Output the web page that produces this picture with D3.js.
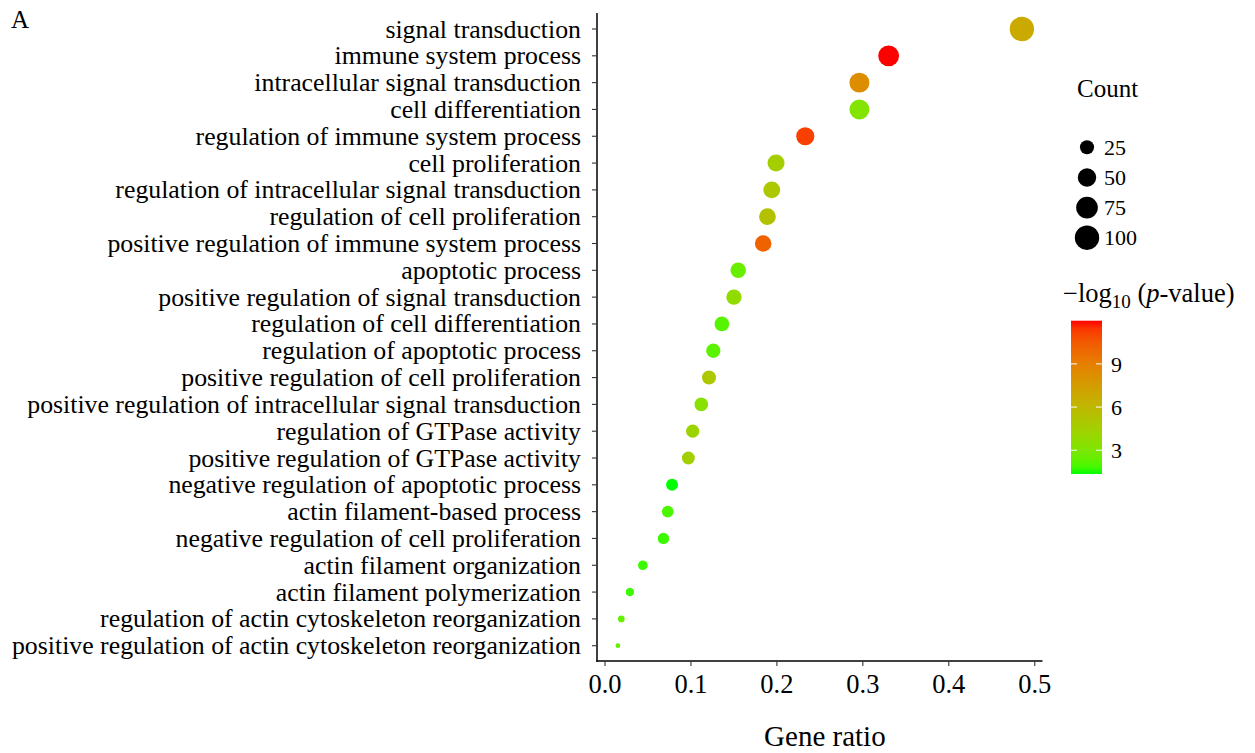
<!DOCTYPE html>
<html>
<head>
<meta charset="utf-8">
<script src="https://cdn.jsdelivr.net/npm/d3@7"></script>
<style>
  html, body { margin: 0; padding: 0; background: #fff; }
  svg { display: block; font-family: "Liberation Serif", "Times New Roman", serif; }
</style>
</head>
<body>
<svg id="chart" width="1255" height="753"></svg>
<script>
// ---- data ----
const categories = [
  "signal transduction",
  "immune system process",
  "intracellular signal transduction",
  "cell differentiation",
  "regulation of immune system process",
  "cell proliferation",
  "regulation of intracellular signal transduction",
  "regulation of cell proliferation",
  "positive regulation of immune system process",
  "apoptotic process",
  "positive regulation of signal transduction",
  "regulation of cell differentiation",
  "regulation of apoptotic process",
  "positive regulation of cell proliferation",
  "positive regulation of intracellular signal transduction",
  "regulation of GTPase activity",
  "positive regulation of GTPase activity",
  "negative regulation of apoptotic process",
  "actin filament-based process",
  "negative regulation of cell proliferation",
  "actin filament organization",
  "actin filament polymerization",
  "regulation of actin cytoskeleton reorganization",
  "positive regulation of actin cytoskeleton reorganization"
];
const geneRatio = [0.485, 0.330, 0.296, 0.296, 0.233, 0.199, 0.194, 0.189, 0.184, 0.155, 0.150, 0.136,
                   0.126, 0.121, 0.112, 0.102, 0.097, 0.078, 0.073, 0.068, 0.044, 0.029, 0.019, 0.015];
const counts    = [100, 68, 61, 61, 48, 41, 40, 39, 38, 32, 31, 28, 26, 25, 23, 21, 20, 16, 15, 14, 9, 6, 4, 3];
const negLogP   = [6.8, 12.0, 8.3, 3.2, 11.2, 4.6, 5.0, 5.4, 10.2, 2.5, 3.7, 2.1,
                   2.2, 5.0, 3.4, 4.2, 4.5, 1.35, 1.9, 1.7, 1.7, 1.7, 2.4, 2.4];
const xTicks = [0.0, 0.1, 0.2, 0.3, 0.4, 0.5];
const sizeBreaks = [25, 50, 75, 100];
const colorBreaks = [3, 6, 9];

const data = categories.map((c, i) => ({ term: c, ratio: geneRatio[i], count: counts[i], p: negLogP[i] }));

const svg = d3.select("#chart");

// ---- scales ----
const x = d3.scaleLinear().domain([-0.0093, 0.509]).range([597, 1042.5]);
const y = d3.scalePoint().domain(categories).range([29, 645.7]);

const cMin = d3.min(counts), cMax = d3.max(counts);
const rLin = d3.scaleLinear().domain([0, 1]).range([2.35, 12.2]);
const r = c => rLin(Math.sqrt(Math.max(0, (c - cMin) / (cMax - cMin))));

const pMin = d3.min(negLogP), pMax = d3.max(negLogP);
const color = d3.scaleLinear().domain([pMin, pMax]).range(["#00ff00", "#ff0000"]).interpolate(d3.interpolateLab);

// ---- axes ----
const axisY = 661, axisX = 597;
svg.append("line").attr("x1", axisX).attr("x2", axisX).attr("y1", 13).attr("y2", axisY + 0.75)
  .attr("stroke", "#000").attr("stroke-width", 1.5);
svg.append("line").attr("x1", axisX - 0.75).attr("x2", 1042.5).attr("y1", axisY).attr("y2", axisY)
  .attr("stroke", "#000").attr("stroke-width", 1.5);

// y ticks + labels
const yg = svg.append("g");
yg.selectAll("line").data(categories).join("line")
  .attr("x1", axisX - 5).attr("x2", axisX).attr("y1", d => y(d)).attr("y2", d => y(d))
  .attr("stroke", "#333").attr("stroke-width", 1.1);
yg.selectAll("text").data(categories).join("text")
  .attr("x", 581).attr("y", d => y(d)).attr("dy", "0.33em")
  .attr("text-anchor", "end").attr("font-size", 25.8).attr("fill", "#000")
  .text(d => d);

// x ticks + labels
const xg = svg.append("g");
xg.selectAll("line").data(xTicks).join("line")
  .attr("x1", d => x(d)).attr("x2", d => x(d)).attr("y1", axisY).attr("y2", axisY + 5)
  .attr("stroke", "#333").attr("stroke-width", 1.1);
xg.selectAll("text").data(xTicks).join("text")
  .attr("x", d => x(d)).attr("y", 693)
  .attr("text-anchor", "middle").attr("font-size", 26.5).attr("fill", "#000")
  .text(d => d3.format(".1f")(d));

svg.append("text").attr("x", (x(0) + x(0.5)) / 2 + 5).attr("y", 746)
  .attr("text-anchor", "middle").attr("font-size", 29).text("Gene ratio");

// panel letter
svg.append("text").attr("x", 11).attr("y", 28).attr("font-size", 25).text("A");

// ---- points ----
svg.append("g").selectAll("circle").data(data).join("circle")
  .attr("cx", d => x(d.ratio)).attr("cy", d => y(d.term))
  .attr("r", d => r(d.count)).attr("fill", d => color(d.p));

// ---- size legend ----
const lg = svg.append("g");
lg.append("text").attr("x", 1077).attr("y", 97).attr("font-size", 25).text("Count");
const legY = d3.scalePoint().domain(sizeBreaks).range([147.3, 237.7]);
lg.selectAll("circle").data(sizeBreaks).join("circle")
  .attr("cx", 1087).attr("cy", d => legY(d)).attr("r", d => r(d)).attr("fill", "#000");
lg.selectAll("text.lab").data(sizeBreaks).join("text").attr("class", "lab")
  .attr("x", d => d >= 100 ? 1104 : 1104).attr("y", d => legY(d)).attr("dy", "0.35em")
  .attr("font-size", 22).text(d => d);

// ---- colour legend ----
const cg = svg.append("g");
const title = cg.append("text").attr("class", "ctitle").attr("x", 1063).attr("y", 302).attr("font-size", 26.5);
title.append("tspan").text("\u2212log");
title.append("tspan").attr("font-size", 19).attr("dy", 6).text("10");
title.append("tspan").attr("dy", -6).text(" (");
title.append("tspan").attr("font-style", "italic").text("p");
title.append("tspan").text("-value)");

const barX = 1071, barW = 31, barTop = 320.7, barBot = 474;
const cy = d3.scaleLinear().domain([pMin, pMax]).range([barBot, barTop]);
const defs = svg.append("defs");
const grad = defs.append("linearGradient").attr("id", "cbar")
  .attr("x1", 0).attr("y1", 1).attr("x2", 0).attr("y2", 0);
d3.range(0, 1.0001, 0.05).forEach(t => {
  grad.append("stop").attr("offset", t).attr("stop-color", color(pMin + t * (pMax - pMin)));
});
cg.append("rect").attr("x", barX).attr("y", barTop).attr("width", barW).attr("height", barBot - barTop)
  .attr("fill", "url(#cbar)");
cg.selectAll("line.l").data(colorBreaks).join("line").attr("class", "l")
  .attr("x1", barX).attr("x2", barX + 6).attr("y1", d => cy(d)).attr("y2", d => cy(d))
  .attr("stroke", "#fff").attr("stroke-width", 1);
cg.selectAll("line.r").data(colorBreaks).join("line").attr("class", "r")
  .attr("x1", barX + barW - 6).attr("x2", barX + barW).attr("y1", d => cy(d)).attr("y2", d => cy(d))
  .attr("stroke", "#fff").attr("stroke-width", 1);
cg.selectAll("text.clab").data(colorBreaks).join("text").attr("class", "clab")
  .attr("x", 1111).attr("y", d => cy(d)).attr("dy", "0.35em").attr("font-size", 22)
  .text(d => d);
</script>
</body>
</html>
